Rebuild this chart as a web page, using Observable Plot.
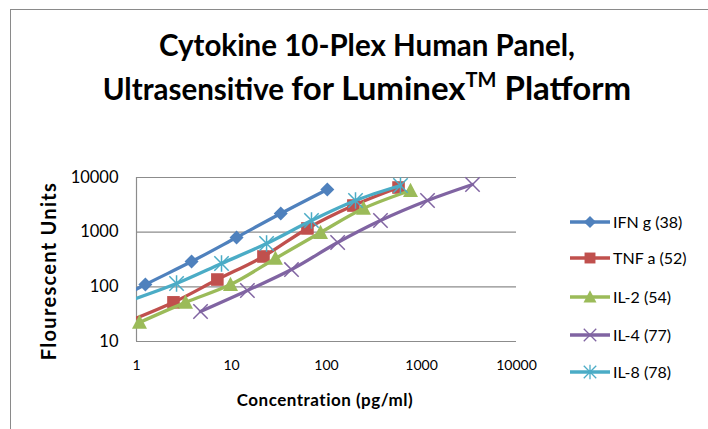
<!DOCTYPE html>
<html><head><meta charset="utf-8">
<script src="https://cdn.jsdelivr.net/npm/d3@7"></script>
<script src="https://cdn.jsdelivr.net/npm/@observablehq/plot@0.6"></script>
<style>
body{margin:0;background:#fff;}
#wrap{position:relative;width:708px;height:429px;overflow:hidden;font-family:Lato,"Open Sans",sans-serif;color:#000;background:#fff;}
#frame{position:absolute;left:10px;top:9px;width:720px;height:440px;border-left:1.5px solid #8a8a8a;border-top:1.5px solid #8a8a8a;}
#title{position:absolute;left:0;width:734px;top:24px;text-align:center;font-weight:bold;font-size:29.5px;line-height:42px;}
#title .big{font-size:33px;}
#title sup{font-size:20px;vertical-align:0;position:relative;top:-13px;}
#ylab{position:absolute;left:48px;top:271px;transform:translate(-50%,-50%) rotate(-90deg);font-weight:bold;font-size:20px;letter-spacing:1.3px;white-space:nowrap;}
#xlab{position:absolute;left:325px;top:399px;transform:translate(-50%,-50%);font-weight:bold;font-size:17px;letter-spacing:0.5px;white-space:nowrap;}
#plot,#legend{position:absolute;left:0;top:0;}
</style></head><body>
<div id="wrap">
  <div id="frame"></div>
  <div id="plot"></div>
  <div id="title">Cytokine 10-Plex Human Panel,<br>Ultrasensitive <span class="big">for Luminex<sup>TM</sup> Platform</span></div>
  <div id="ylab">Flourescent Units</div>
  <div id="xlab">Concentration (pg/ml)</div>
  <svg id="legend" width="708" height="429"></svg>
</div>
<script>
// ---- data ----
const seriesNames = ["IFN g (38)", "TNF a (52)", "IL-2 (54)", "IL-4 (77)", "IL-8 (78)"];
const ifnX = [0.41, 1.24, 3.8, 11.3, 33, 102];
const ifnY = [40, 110, 290, 800, 2190, 6030];
const tnfX = [0.82, 2.45, 7.1, 21.7, 63, 192, 573];
const tnfY = [23.3, 52, 136, 359, 1170, 3070, 6560];
const il2X = [1.075, 3.28, 9.76, 29, 86.5, 245, 766];
const il2Y = [22.3, 52, 110, 330, 986, 2710, 5780];
const il4X = [4.72, 14.7, 42.8, 131, 370, 1157, 3443];
const il4Y = [35.4, 85.7, 207, 647, 1634, 3795, 7447];
const il8X = [0.8, 2.64, 7.85, 23.4, 69.5, 202, 601];
const il8Y = [54, 115, 267, 620, 1634, 3795, 7130];
const xTicks = [1, 10, 100, 1000, 10000];
const yTicks = [10, 100, 1000, 10000];

const colors = ["#4F81BD", "#C0504D", "#9BBB59", "#8064A2", "#4BACC6"];

// ---- marker shapes ----
const shapes = {
  diamond: {draw(c, size){const s=Math.sqrt(size/Math.PI); c.moveTo(0,-s); c.lineTo(s,0); c.lineTo(0,s); c.lineTo(-s,0); c.closePath();}},
  square: {draw(c, size){const s=Math.sqrt(size/Math.PI); c.moveTo(-s,-s); c.lineTo(s,-s); c.lineTo(s,s); c.lineTo(-s,s); c.closePath();}},
  triangle: {draw(c, size){const s=Math.sqrt(size/Math.PI); c.moveTo(0,-s*1.05); c.lineTo(s,s*0.85); c.lineTo(-s,s*0.85); c.closePath();}},
  times: {draw(c, size){const s=Math.sqrt(size/Math.PI); c.moveTo(-s,-s); c.lineTo(s,s); c.moveTo(s,-s); c.lineTo(-s,s);}},
  star: {draw(c, size){const s=Math.sqrt(size/Math.PI); c.moveTo(-s,-s); c.lineTo(s,s); c.moveTo(s,-s); c.lineTo(-s,s); c.moveTo(0,-s*1.15); c.lineTo(0,s*1.15);}}
};
const markerKinds = ["diamond", "square", "triangle", "times", "star"];
const markerR = [7, 6.3, 7.5, 7.2, 7.2];
const filled = [true, true, true, false, false];

const xsAll = [ifnX, tnfX, il2X, il4X, il8X];
const ysAll = [ifnY, tnfY, il2Y, il4Y, il8Y];
const series = seriesNames.map((name, i) => ({
  name, color: colors[i], kind: markerKinds[i], r: markerR[i], filled: filled[i],
  points: xsAll[i].map((x, j) => ({x, y: ysAll[i][j]}))
}));

const marks = [
  Plot.gridY(yTicks, {stroke: "#8c8c8c", strokeOpacity: 1, strokeWidth: 1.2}),
  Plot.ruleX([1], {stroke: "#8c8c8c", strokeWidth: 1.2}),
  Plot.axisY(yTicks, {tickSize: 0, tickPadding: 18, tickFormat: d => String(d), fontSize: 16.5, label: null, fill: "#000"}),
  Plot.axisX(xTicks, {tickSize: 0, tickPadding: 19, tickFormat: d => String(d), fontSize: 14, label: null, fill: "#000"})
];
for (const s of series) {
  marks.push(Plot.line(s.points, {x: "x", y: "y", stroke: s.color, strokeWidth: 3.3, curve: "catmull-rom", clip: true}));
  marks.push(Plot.dot(s.points.filter(p => p.x >= 1), {
    x: "x", y: "y", r: s.r, symbol: shapes[s.kind],
    fill: s.filled ? s.color : "none", stroke: s.filled ? "none" : s.color, strokeWidth: s.filled ? 0 : 1.5
  }));
}

const chart = Plot.plot({
  width: 708, height: 429,
  marginLeft: 136, marginRight: 192, marginTop: 177, marginBottom: 88,
  style: {fontFamily: "Lato, 'Open Sans', sans-serif", background: "transparent", color: "#000"},
  x: {type: "log", domain: [1, 10000]},
  y: {type: "log", domain: [10, 10000]},
  marks
});
document.getElementById("plot").appendChild(chart);

// ---- legend ----
const lg = d3.select("#legend");
const rowY = [222, 258, 297, 335, 372];
series.forEach((s, i) => {
  const g = lg.append("g").attr("transform", `translate(0,${rowY[i]})`);
  g.append("line").attr("x1", 570).attr("x2", 610).attr("y1", 0).attr("y2", 0)
    .attr("stroke", s.color).attr("stroke-width", 3.3);
  g.append("path").attr("transform", "translate(590,0)")
    .attr("d", d3.symbol(shapes[s.kind], Math.PI * s.r * s.r * 0.75)())
    .attr("fill", s.filled ? s.color : "none")
    .attr("stroke", s.filled ? "none" : s.color).attr("stroke-width", 1.3);
  g.append("text").attr("x", 613).attr("y", 0).attr("dy", "0.35em")
    .attr("font-family", "Lato, 'Open Sans', sans-serif").attr("font-size", 16).attr("fill", "#000")
    .text(s.name);
});
</script>
</body></html>
